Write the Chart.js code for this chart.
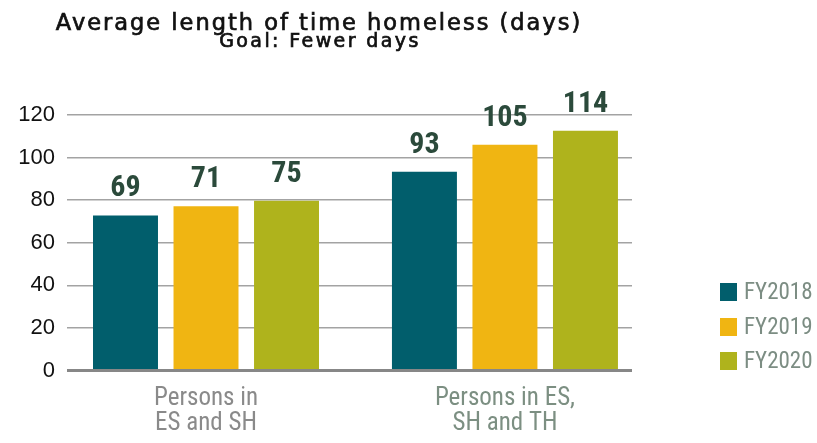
<!DOCTYPE html>
<html lang="en">
<head>
    <meta charset="UTF-8">
    <title>Average length of time homeless (days)</title>
    <script src="https://cdn.jsdelivr.net/npm/chart.js"></script>
    <style>
        html, body { margin: 0; padding: 0; background: #fff; }
        #wrap { width: 817px; height: 443px; position: relative; }
    </style>
</head>
<body>
    <div id="wrap"><canvas id="chart" width="817" height="443"></canvas></div>

    <script>
        // values
        const groups = [['Persons in', 'ES and SH'], ['Persons in ES,', 'SH and TH']];
        const groupPos = [0, 1];
        const seriesNames = ['FY2018', 'FY2019', 'FY2020'];
        const seriesColors = ['#015e6c', '#f0b512', '#afb31c'];
        // bar heights as drawn
        const fy2018 = [72.8, 93.4];
        const fy2019 = [77.1, 106];
        const fy2020 = [79.7, 112.6];
        // value labels as printed above the bars
        const labels2018 = ['69', '93'];
        const labels2019 = ['71', '105'];
        const labels2020 = ['75', '114'];
        const yTicks = [0, 20, 40, 60, 80, 100, 120];

        const barValues = [fy2018, fy2019, fy2020];
        const barLabels = [labels2018, labels2019, labels2020];

        const narrow = '"Liberation Sans Narrow", "Arial Narrow", "Roboto Condensed", sans-serif';

        const extras = {
            id: 'extras',
            afterDatasetsDraw(chart) {
                const ctx = chart.ctx;
                ctx.save();
                // value labels
                ctx.fillStyle = '#2b4a3b';
                ctx.font = 'bold 30px ' + narrow;
                ctx.textAlign = 'center';
                ctx.textBaseline = 'alphabetic';
                chart.data.datasets.forEach((ds, i) => {
                    chart.getDatasetMeta(i).data.forEach((bar, j) => {
                        ctx.fillText(barLabels[i][j], bar.x, bar.y - 19);
                    });
                });

                // titles
                ctx.fillStyle = '#111';
                ctx.strokeStyle = '#111';
                ctx.lineWidth = 0.7;
                ctx.font = '22.5px "DejaVu Sans", sans-serif';
                ctx.letterSpacing = '2px';
                ctx.fillText('Average length of time homeless (days)', 319, 30);
                ctx.strokeText('Average length of time homeless (days)', 319, 30);
                ctx.font = '19px "DejaVu Sans", sans-serif';
                ctx.letterSpacing = '2.4px';
                ctx.fillText('Goal: Fewer days', 320, 47);
                ctx.strokeText('Goal: Fewer days', 320, 47);
                ctx.letterSpacing = '0px';

                // legend
                ctx.textAlign = 'left';
                ctx.textBaseline = 'middle';
                ctx.font = '23px ' + narrow;
                const rows = [292, 327, 361];
                seriesNames.forEach((name, i) => {
                    ctx.fillStyle = seriesColors[i];
                    ctx.fillRect(720, rows[i] - 9, 17, 18);
                    ctx.fillStyle = '#7c8d83';
                    ctx.fillText(name, 744, rows[i] + 1);
                });
                ctx.restore();
            }
        };

        new Chart(document.getElementById('chart'), {
            type: 'bar',
            data: {
                datasets: seriesNames.map((name, i) => ({
                    label: name,
                    data: groupPos.map((x, j) => ({ x: x, y: barValues[i][j] })),
                    backgroundColor: seriesColors[i],
                    categoryPercentage: 0.808,
                    barPercentage: 0.807
                }))
            },
            options: {
                responsive: false,
                animation: false,
                layout: { padding: { left: 0, right: 185, top: 115, bottom: 0 } },
                plugins: {
                    legend: { display: false },
                    tooltip: { enabled: false }
                },
                scales: {
                    x: {
                        type: 'linear',
                        min: -0.465,
                        max: 1.425,
                        offset: false,
                        grid: { display: false },
                        border: { display: false },
                        afterBuildTicks: (scale) => {
                            scale.ticks = groupPos.map(v => ({ value: v }));
                        },
                        afterFit: (scale) => { scale.height = 72.5; },
                        ticks: {
                            autoSkip: false,
                            maxRotation: 0,
                            padding: 8,
                            callback: (v) => groups[groupPos.indexOf(v)],
                            color: (c) => c.index === 0 ? '#8a8a8a' : '#7c8f82',
                            font: { family: narrow, size: 25, lineHeight: 1.0 }
                        }
                    },
                    y: {
                        min: 0,
                        max: 120,
                        afterBuildTicks: (scale) => {
                            scale.ticks = yTicks.map(v => ({ value: v }));
                        },
                        afterFit: (scale) => { scale.width = 67; },
                        border: { display: false },
                        grid: {
                            drawTicks: false,
                            color: (c) => c.tick && c.tick.value === 0 ? '#878787' : '#a3a3a3',
                            lineWidth: (c) => c.tick && c.tick.value === 0 ? 3 : 1.5
                        },
                        ticks: {
                            padding: 12,
                            color: '#111',
                            font: { family: '"Liberation Sans", Arial, sans-serif', size: 22 }
                        }
                    }
                }
            },
            plugins: [extras]
        });
    </script>
</body>
</html>
